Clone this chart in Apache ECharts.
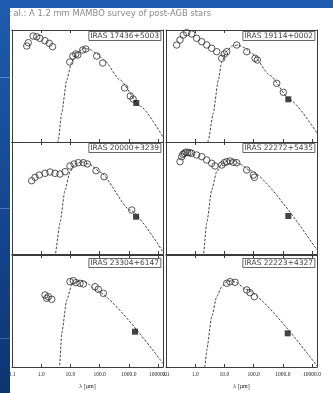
<!DOCTYPE html>
<html><head><meta charset="utf-8">
<script src="https://cdn.jsdelivr.net/npm/echarts@6/dist/echarts.min.js"></script>
<style>html,body{margin:0;padding:0;background:#fff}#c{width:333px;height:393px}</style>
</head><body><div id="c"></div>
<script>
// ---- data ----
const xTickValues = [0.1, 1, 10, 100, 1000, 10000];
const figTitle = "Buemi et al.: A 1.2 mm MAMBO survey of post-AGB stars";
const xAxisTitle = "\u03bb [\u00b5m]";
const starNames = ["IRAS 17436+5003", "IRAS 19114+0002", "IRAS 20000+3239", "IRAS 22272+5435", "IRAS 23304+6147", "IRAS 22223+4327"];

// panel 1
const p1OptLam = [0.32, 0.36, 0.53, 0.70, 0.90, 1.34, 1.88, 2.45];
const p1OptFlux = [3.72e8, 7.35e8, 2.91e9, 2.52e9, 1.82e9, 1.11e9, 6.50e8, 3.23e8];
const p1DustLam = [9.5, 12.1, 15.3, 17.9, 26.5, 33.6, 79.6, 128, 720, 1120, 1400];
const p1DustFlux = [1.39e7, 4.77e7, 7.19e7, 5.86e7, 1.64e8, 2.01e8, 4.77e7, 1.13e7, 6.62e4, 1.28e4, 6.90e3];
const p1MmLam = [1800];
const p1MmFlux = [3.03e3];
const p1ModLam = [3.21, 3.85, 5.04, 7.47, 11.1, 16.8, 27.0, 43.4, 75.3, 142, 500, 2420, 14800];
const p1ModFlux = [0.03, 1.51, 388, 3.44e5, 1.39e7, 8.83e7, 2.23e8, 2.01e8, 8.83e7, 2.10e7, 3.44e5, 1.64e3, 2.79];

// panel 2
const p2OptLam = [0.232, 0.301, 0.391, 0.512, 0.759, 1.12, 1.67, 2.48, 3.67, 5.45];
const p2OptFlux = [4.58e8, 1.28e9, 3.58e9, 5.74e9, 4.40e9, 1.82e9, 9.02e8, 4.58e8, 2.32e8, 1.16e8];
const p2DustLam = [8.09, 9.93, 12.0, 26.4, 58.0, 112, 134, 618, 1040];
const p2DustFlux = [2.97e7, 7.19e7, 1.16e8, 4.58e8, 1.16e8, 2.97e7, 2.10e7, 1.74e5, 2.74e4];
const p2MmLam = [1540];
const p2MmFlux = [6.50e3];
const p2ModLam = [2.54, 2.81, 4.17, 6.18, 8.09, 12.0, 18.2, 29.2, 46.9, 88.1, 365, 1770, 14800];
const p2ModFlux = [0.19, 1.51, 388, 3.44e5, 1.39e7, 1.33e8, 3.73e8, 4.58e8, 2.74e8, 7.98e7, 8.67e5, 5.62e3, 6.37];

// panel 3
const p3OptLam = [0.473, 0.614, 0.861, 1.35, 2.00, 2.97, 4.40, 6.53];
const p3OptFlux = [3.51e6, 7.05e6, 1.13e7, 1.60e7, 2.10e7, 1.60e7, 1.39e7, 2.23e7];
const p3DustLam = [9.68, 13.3, 18.7, 27.7, 37.9, 75.3, 142, 1260];
const p3DustFlux = [7.19e7, 1.09e8, 1.42e8, 1.42e8, 1.09e8, 2.74e7, 7.98e6, 8.49e3];
const p3MmLam = [1770];
const p3MmFlux = [2.14e3];
const p3ModLam = [2.74, 2.97, 4.40, 6.53, 9.68, 14.4, 24.4, 46.9, 103, 1100, 14800];
const p3ModFlux = [0.104, 0.815, 586, 5.18e5, 2.23e7, 1.09e8, 1.74e8, 9.79e7, 2.10e7, 8.49e3, 1.51];

// panel 4
const p4OptLam = [0.301, 0.345, 0.38, 0.424, 0.48, 0.553, 0.65, 0.759, 1.12, 1.67, 2.48, 3.67, 4.76];
const p4OptFlux = [1.74e8, 4.88e8, 7.9e8, 9.79e8, 1.26e9, 1.11e9, 1.12e9, 9.79e8, 6.90e8, 4.88e8, 2.47e8, 1.25e8, 7.19e7];
const p4DustLam = [8.09, 9.93, 12.0, 15.6, 20.2, 26.4, 58.0, 97.8, 106];
const p4DustFlux = [8.83e7, 1.42e8, 1.74e8, 2.01e8, 1.54e8, 1.42e8, 3.16e7, 1.13e7, 7.05e6];
const p4MmLam = [1540];
const p4MmFlux = [2.47e3];
const p4ModLam = [1.71, 1.89, 2.48, 3.67, 5.45, 8.09, 13.3, 21.3, 34.2, 75.3, 14800];
const p4ModFlux = [0.104, 0.815, 551, 5.18e5, 2.23e7, 1.09e8, 2.09e8, 2.01e8, 1.09e8, 2.85e7, 2.28];

// panel 5
const p5OptLam = [1.35, 1.54, 1.75, 2.29];
const p5OptFlux = [2.68e6, 1.36e6, 1.89e6, 1.11e6];
const p5DustLam = [9.68, 12.6, 15.6, 21.3, 27.7, 69.5, 90.2, 134];
const p5DustFlux = [4.13e7, 5.07e7, 3.37e7, 2.97e7, 2.58e7, 1.48e7, 8.67e6, 3.80e6];
const p5MmLam = [1630];
const p5MmFlux = [1.42e3];
const p5ModLam = [3.91, 4.23, 5.04, 7.47, 11.1, 15.6, 24.4, 36.1, 69.5, 14800];
const p5ModFlux = [0.128, 1.0, 1.02e3, 9.59e5, 2.10e7, 4.13e7, 5.07e7, 3.37e7, 7.50e6, 2.05];

// panel 6
const p6OptLam = [];
const p6OptFlux = [];
const p6DustLam = [12.0, 15.6, 23.1, 58.0, 75.3, 106];
const p6DustFlux = [2.97e7, 4.13e7, 3.66e7, 7.50e6, 4.31e6, 1.89e6];
const p6MmLam = [1470];
const p6MmFlux = [1.02e3];
const p6ModLam = [2.00, 2.17, 2.48, 3.67, 5.45, 8.09, 12.0, 17.8, 26.4, 50.7, 14800];
const p6ModFlux = [0.193, 1.51, 33.0, 3.10e4, 1.89e6, 1.48e7, 4.13e7, 5.07e7, 3.37e7, 9.20e6, 1.23];

// ---- build ----
const zip = (a, b) => a.map((v, i) => [v, b[i]]);
const panels = [
  [p1OptLam, p1OptFlux, p1DustLam, p1DustFlux, p1MmLam, p1MmFlux, p1ModLam, p1ModFlux],
  [p2OptLam, p2OptFlux, p2DustLam, p2DustFlux, p2MmLam, p2MmFlux, p2ModLam, p2ModFlux],
  [p3OptLam, p3OptFlux, p3DustLam, p3DustFlux, p3MmLam, p3MmFlux, p3ModLam, p3ModFlux],
  [p4OptLam, p4OptFlux, p4DustLam, p4DustFlux, p4MmLam, p4MmFlux, p4ModLam, p4ModFlux],
  [p5OptLam, p5OptFlux, p5DustLam, p5DustFlux, p5MmLam, p5MmFlux, p5ModLam, p5ModFlux],
  [p6OptLam, p6OptFlux, p6DustLam, p6DustFlux, p6MmLam, p6MmFlux, p6ModLam, p6ModFlux]
];

const colLeft = [12, 166], colW = 151;
const rowTop = [30, 142, 255], rowH = 112;
const ink = '#3a3a3a';
const grid = [], xAxis = [], yAxis = [], series = [], title = [];

function isDecade(v) {
  const l = Math.log10(v);
  return Math.abs(l - Math.round(l)) < 1e-6 && xTickValues.some(t => Math.abs(Math.log10(t) - l) < 1e-6);
}
function fmt(v) {
  if (!isDecade(v)) return '';
  const r = Math.pow(10, Math.round(Math.log10(v)));
  return r < 1 ? String(r) : r.toFixed(1);
}

panels.forEach((p, i) => {
  const c = i % 2, r = Math.floor(i / 2);
  grid.push({left: colLeft[c], top: rowTop[r], width: colW, height: rowH, containLabel: false});
  const common = {
    type: 'log', logBase: 10, gridIndex: i, min: 0.1, max: 14800, splitNumber: 5,
    axisLine: {show: true, onZero: false, lineStyle: {color: ink, width: 1}},
    axisTick: {show: true, inside: true, length: 3, lineStyle: {color: ink}},
    splitLine: {show: false}
  };
  const bottomRow = r === 2;
  xAxis.push(Object.assign({}, common, {
    position: 'bottom',
    axisLabel: {show: bottomRow, formatter: fmt, fontSize: 5.5, color: '#222', margin: 5,
      fontFamily: 'Liberation Serif', showMaxLabel: false, hideOverlap: false},
    name: bottomRow ? xAxisTitle : '', nameLocation: 'middle', nameGap: 16,
    nameTextStyle: {fontSize: 6, color: '#222', fontFamily: 'Liberation Serif'}
  }));
  xAxis.push(Object.assign({}, common, {position: 'top', axisLabel: {show: false}}));
  const ycommon = {
    type: 'log', logBase: 10, gridIndex: i, min: 1, max: 1e10, splitNumber: 10,
    axisLine: {show: true, onZero: false, lineStyle: {color: ink, width: 1}},
    axisTick: {show: true, inside: true, length: 3, lineStyle: {color: ink}},
    axisLabel: {show: false}, splitLine: {show: false}
  };
  yAxis.push(Object.assign({}, ycommon, {position: 'left'}));
  yAxis.push(Object.assign({}, ycommon, {position: 'right'}));

  const xi = i * 2, yi = i * 2;
  const circ = {symbol: 'circle', symbolSize: 6.5,
    itemStyle: {color: 'rgba(255,255,255,0)', borderColor: '#2e2e2e', borderWidth: 1}};
  series.push({type: 'line', xAxisIndex: xi, yAxisIndex: yi, data: zip(p[6], p[7]),
    showSymbol: false, smooth: 0.2, smoothMonotone: 'x', clip: true, silent: true,
    lineStyle: {color: '#444', width: 1, type: [2.5, 1.5]}, z: 2});
  series.push(Object.assign({type: 'scatter', xAxisIndex: xi, yAxisIndex: yi, data: zip(p[0], p[1]), z: 3}, circ));
  series.push(Object.assign({type: 'scatter', xAxisIndex: xi, yAxisIndex: yi, data: zip(p[2], p[3]), z: 3}, circ));
  series.push({type: 'scatter', xAxisIndex: xi, yAxisIndex: yi, data: zip(p[4], p[5]), z: 4,
    symbol: 'rect', symbolSize: 6, itemStyle: {color: '#151515'}});

  title.push({text: starNames[i], right: 333 - (colLeft[c] + colW) + 2,
    top: rowTop[r] + (r === 2 ? 3 : 1),
    padding: [1, 2], borderWidth: 1, borderColor: '#666', backgroundColor: '#fff',
    textStyle: {fontSize: 7.5, fontWeight: 'normal', color: '#444', fontFamily: 'DejaVu Sans', lineHeight: 8}});
});

const chart = echarts.init(document.getElementById('c'), null, {renderer: 'canvas'});
chart.setOption({
  animation: false,
  backgroundColor: '#fff',
  title, grid, xAxis, yAxis, series,
  graphic: [
    {type: 'text', z: 10,
      style: {x: -27, y: 10, text: figTitle, fontSize: 8.4, fill: '#8a8a8a', fontFamily: 'DejaVu Sans'}},
    {type: 'rect', z: 100, shape: {x: 0, y: 0, width: 333, height: 8},
      style: {fill: '#1f5bb0'}},
    {type: 'rect', z: 100, shape: {x: 0, y: 0, width: 10, height: 393},
      style: {fill: new echarts.graphic.LinearGradient(0, 0, 0, 1, [
        {offset: 0, color: '#1f5bb0'}, {offset: 1, color: '#0c3572'}])}},
    {type: 'rect', z: 101, shape: {x: 0, y: 77, width: 10, height: 1}, style: {fill: '#5d88c8'}},
    {type: 'rect', z: 101, shape: {x: 0, y: 208, width: 10, height: 1}, style: {fill: '#4a74b4'}},
    {type: 'rect', z: 101, shape: {x: 0, y: 338, width: 10, height: 1}, style: {fill: '#3a62a0'}}
  ]
});
</script>
</body></html>
